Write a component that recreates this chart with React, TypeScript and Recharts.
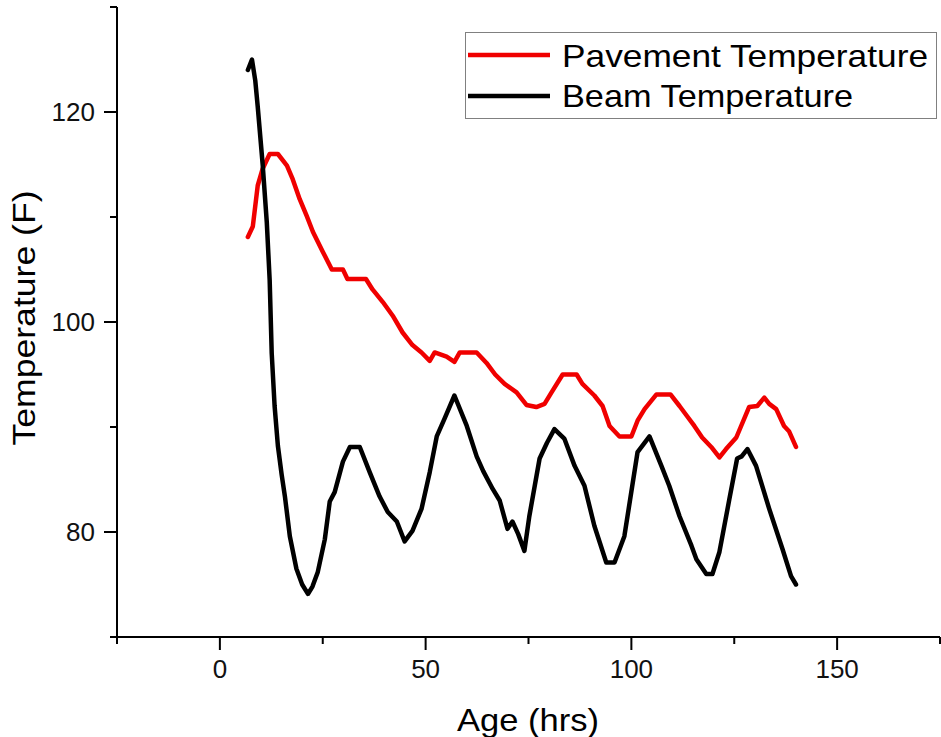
import { CartesianGrid, Line, LineChart, XAxis, YAxis } from "recharts";

// Pavement surface and beam temperatures logged during curing
const PAVE_AGE = [
  6.8, 8, 9.2, 10.4, 12.1, 14.1, 16.3, 17.7, 19.4, 21.1, 22.6, 25, 27.2, 29.9, 31, 35.5, 37.1,
  39.6, 42, 44.4, 46.8, 49, 51, 52.2, 55.1, 57, 58.3, 62.4, 64.8, 66.9, 69.2, 72.1, 74.5, 76.9,
  78.9, 80.6, 83.3, 86.7, 88.1, 91, 93, 94.7, 97.1, 100, 101.5, 103.2, 106.1, 109.5, 111.7,
  113.6, 115.3, 117.2, 119.4, 121.4, 123, 125.5, 128.6, 130.6, 132.3, 133.5, 135.2, 137.1,
  138.3, 140,
];
const PAVE_TEMP = [
  108.1, 109.1, 113, 114.6, 116, 116, 114.9, 113.6, 111.7, 110.1, 108.6, 106.7, 105, 105, 104.1,
  104.1, 103.1, 101.9, 100.6, 99, 97.8, 97.1, 96.3, 97.1, 96.7, 96.2, 97.1, 97.1, 96.1, 95, 94.1,
  93.3, 92.1, 91.9, 92.2, 93.3, 95, 95, 94.1, 93, 92, 90.1, 89.1, 89.1, 90.6, 91.7, 93.1, 93.1,
  92, 91, 90.1, 89, 88.1, 87.1, 87.9, 89, 91.9, 92, 92.8, 92.2, 91.7, 90.1, 89.6, 88.1,
];

const BEAM_AGE = [
  6.8, 7.8, 8.6, 9.2, 10.4, 11.4, 12.1, 12.6, 13.3, 14.1, 15, 15.8, 17, 18.6, 20, 21.4, 22.5,
  23.8, 25.5, 26.7, 27.9, 29.9, 31.6, 34, 36.4, 38.8, 40.8, 43, 44.9, 46.8, 49, 51, 52.7, 54.6,
  57, 60, 62.4, 64, 66.3, 68, 69.9, 71.1, 72.5, 74, 75.2, 77.7, 79.5, 81.3, 83.7, 86.2, 88.6, 91,
  93.9, 95.9, 98.3, 101.5, 104.4, 107.3, 109.2, 111.7, 114.6, 115.8, 118.2, 119.7, 121.4, 123.8,
  125.7, 126.8, 128.2, 130.3, 133.5, 136.7, 138.8, 140,
];
const BEAM_TEMP = [
  124, 125, 123, 120.5, 115, 109.5, 104, 97, 92, 88.2, 85.5, 83.4, 79.6, 76.5, 75, 74.1, 74.8,
  76.2, 79.3, 82.9, 83.8, 86.7, 88.1, 88.1, 85.7, 83.4, 81.9, 81, 79.1, 80.1, 82.2, 85.7, 89.1,
  90.8, 93, 90.1, 87.2, 85.8, 84.1, 83, 80.3, 81, 79.8, 78.2, 81.5, 87, 88.5, 89.8, 88.9, 86.3,
  84.4, 80.6, 77.1, 77.1, 79.6, 87.6, 89.1, 86.3, 84.4, 81.5, 78.7, 77.4, 76, 76, 78.1, 83.1,
  87, 87.2, 87.9, 86.3, 82.2, 78.4, 75.8, 75,
];

const X_TICKS = [-25, 0, 25, 50, 75, 100, 125, 150, 175];
const Y_TICKS = [70, 80, 90, 100, 110, 120, 130];

const SERIES = [
  { name: "Pavement Temperature", color: "#f00000", ages: PAVE_AGE, temps: PAVE_TEMP, textLen: 366 },
  { name: "Beam Temperature", color: "#000000", ages: BEAM_AGE, temps: BEAM_TEMP, textLen: 291 },
];

const FONT = "'Liberation Sans', Arial, sans-serif";

const toPoints = (ages: number[], temps: number[]) =>
  ages.map((age, i) => ({ age, temp: temps[i] }));

function XTick({ x, y, payload }: any) {
  const major = payload.value % 50 === 0;
  return (
    <g>
      <line x1={x} x2={x} y1={y} y2={y + (major ? 13 : 7)} stroke="#000" strokeWidth={2} />
      {major && (
        <text x={x} y={y + 41} textAnchor="middle" fontSize={26} fontFamily={FONT} fill="#111">
          {payload.value}
        </text>
      )}
    </g>
  );
}

function YTick({ x, y, payload }: any) {
  const major = payload.value % 20 === 0;
  return (
    <g>
      <line x1={x - (major ? 13 : 7)} x2={x} y1={y} y2={y} stroke="#000" strokeWidth={2} />
      {major && (
        <text x={x - 22} y={y} dy="0.35em" textAnchor="end" fontSize={26} fontFamily={FONT} fill="#111">
          {payload.value}
        </text>
      )}
    </g>
  );
}

const XTitle = () => (
  <text x={528} y={731} textAnchor="middle" fontSize={32} fontFamily={FONT} fill="#000"
    textLength={142} lengthAdjust="spacingAndGlyphs">
    Age (hrs)
  </text>
);

const YTitle = () => (
  <text transform="translate(35,318) rotate(-90)" textAnchor="middle" fontSize={32} fontFamily={FONT}
    fill="#000" textLength={255} lengthAdjust="spacingAndGlyphs">
    Temperature (F)
  </text>
);

function LegendBox() {
  return (
    <svg
      width={472}
      height={87}
      style={{ position: "absolute", left: 465, top: 32, overflow: "visible" }}
    >
      <rect x={0.5} y={0.5} width={471} height={86} fill="#fff" stroke="#808080" />
      {SERIES.map((s, i) => (
        <g key={s.name}>
          <line x1={3} x2={85} y1={23 + i * 41} y2={23 + i * 41} stroke={s.color} strokeWidth={4.5} />
          <text x={97} y={35 + i * 40} fontSize={32} fontFamily={FONT} fill="#000"
            textLength={s.textLen} lengthAdjust="spacingAndGlyphs">
            {s.name}
          </text>
        </g>
      ))}
    </svg>
  );
}

export default function App() {
  return (
    <div style={{ position: "absolute", left: 0, top: 0, width: 941, height: 737, background: "#fff" }}>
      <LineChart width={941} height={737} margin={{ top: 7, right: 1, bottom: 0, left: 0 }}>
        <CartesianGrid stroke="none" />
        <XAxis
          type="number"
          dataKey="age"
          domain={[-25, 175]}
          ticks={X_TICKS}
          interval={0}
          height={100}
          tickSize={0}
          tickMargin={0}
          tickLine={false}
          tick={<XTick />}
          axisLine={{ stroke: "#000", strokeWidth: 2 }}
          label={<XTitle />}
        />
        <YAxis
          type="number"
          dataKey="temp"
          domain={[70, 130]}
          ticks={Y_TICKS}
          interval={0}
          width={117}
          tickSize={0}
          tickMargin={0}
          tickLine={false}
          tick={<YTick />}
          axisLine={{ stroke: "#000", strokeWidth: 2 }}
          label={<YTitle />}
        />
        {SERIES.map((s) => (
          <Line
            key={s.name}
            data={toPoints(s.ages, s.temps)}
            dataKey="temp"
            name={s.name}
            type="linear"
            stroke={s.color}
            strokeWidth={4.5}
            strokeLinejoin="round"
            strokeLinecap="round"
            dot={false}
            activeDot={false}
            isAnimationActive={false}
          />
        ))}
      </LineChart>
      <LegendBox />
    </div>
  );
}
